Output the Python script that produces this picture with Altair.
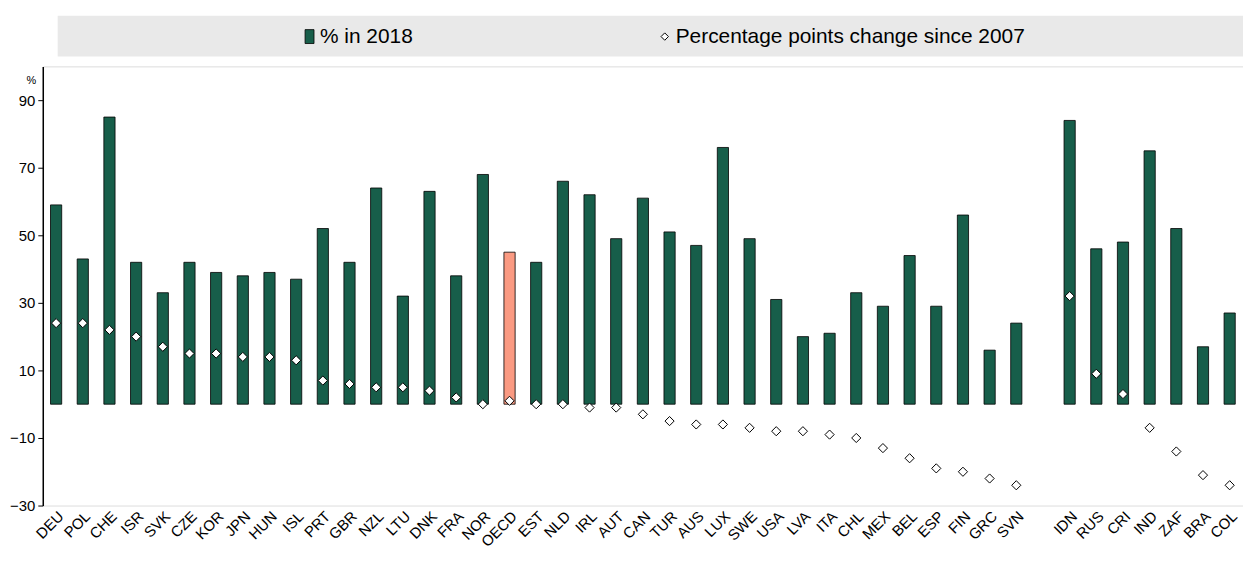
import altair as alt
import pandas as pd

# ---- data ----
oecd_codes = ["DEU", "POL", "CHE", "ISR", "SVK", "CZE", "KOR", "JPN", "HUN", "ISL",
              "PRT", "GBR", "NZL", "LTU", "DNK", "FRA", "NOR", "OECD", "EST", "NLD",
              "IRL", "AUT", "CAN", "TUR", "AUS", "LUX", "SWE", "USA", "LVA", "ITA",
              "CHL", "MEX", "BEL", "ESP", "FIN", "GRC", "SVN"]
oecd_share_2018 = [59, 43, 85, 42, 33, 42, 39, 38, 39, 37,
                   52, 42, 64, 32, 63, 38, 68, 45, 42, 66,
                   62, 49, 61, 51, 47, 76, 49, 31, 20, 21,
                   33, 29, 44, 29, 56, 16, 24]
oecd_change_2007 = [24, 24, 22, 20, 17, 15, 15, 14, 14, 13,
                    7, 6, 5, 5, 4, 2, 0, 1, 0, 0,
                    -1, -1, -3, -5, -6, -6, -7, -8, -8, -9,
                    -10, -13, -16, -19, -20, -22, -24]
partner_codes = ["IDN", "RUS", "CRI", "IND", "ZAF", "BRA", "COL"]
partner_share_2018 = [84, 46, 48, 75, 52, 17, 27]
partner_change_2007 = [32, 9, 3, -7, -14, -21, -24]
gap_slot = " "
highlight_code = "OECD"
legend_labels = ["% in 2018", "Percentage points change since 2007"]
y_ticks = [-30, -10, 10, 30, 50, 70, 90]
y_domain = [-30, 100]

# ---- table ----
codes = oecd_codes + partner_codes
df = pd.DataFrame({
    "code": codes,
    "share": oecd_share_2018 + partner_share_2018,
    "change": oecd_change_2007 + partner_change_2007,
})
df["group"] = ["hl" if c == highlight_code else "base" for c in codes]
x_order = oecd_codes + [gap_slot] + partner_codes

FONT = "Liberation Sans, Arial, sans-serif"
GREEN = "#175E4A"
SALMON = "#FA9A82"

W, H = 1208, 442

x_enc = alt.X(
    "code:N",
    scale=alt.Scale(domain=x_order, paddingInner=0.58, paddingOuter=0.29),
    axis=alt.Axis(title=None, labelAngle=-45, domain=False, ticks=False,
                  labelFontSize=15, labelPadding=3, labelColor="black",
                  labelFont=FONT),
)
y_scale = alt.Scale(domain=y_domain, nice=False, zero=False)
y_axis = alt.Axis(values=y_ticks, title="%", titleAngle=0, titleX=-12, titleY=14,
                  titleFontSize=11, titleFontWeight="normal", titleColor="black",
                  titleAlign="center", titleBaseline="middle", titleFont=FONT,
                  grid=False, tickSize=5, tickColor="black", domainColor="black",
                  domainWidth=1.5, labelFontSize=15, labelColor="black",
                  labelPadding=3, labelFont=FONT)

base = alt.Chart(df)

bars = base.mark_bar(stroke="black", strokeWidth=0.8).encode(
    x=x_enc,
    y=alt.Y("share:Q", scale=y_scale, axis=y_axis),
    y2=alt.datum(0),
    fill=alt.Fill("group:N", scale=alt.Scale(domain=["base", "hl"], range=[GREEN, SALMON]),
                  legend=None),
)

points = base.mark_point(shape="diamond", filled=True, fill="white", stroke="black",
                         strokeWidth=1, size=85, opacity=1).encode(
    x=x_enc,
    y=alt.Y("change:Q", scale=y_scale, axis=y_axis),
)

# ---- legend band drawn above the plot ----
leg_df = pd.DataFrame({"label": legend_labels, "item": [0, 1]})
leg = alt.Chart(leg_df)
leg_bg = leg.transform_filter("datum.item == 0").mark_rect(fill="#E9E9E9").encode(
    x=alt.value(15), x2=alt.value(W), y=alt.value(-51), y2=alt.value(-10))
leg_sq = leg.transform_filter("datum.item == 0").mark_rect(
    fill=GREEN, stroke="black", strokeWidth=0.8).encode(
    x=alt.value(264), x2=alt.value(273), y=alt.value(-37), y2=alt.value(-23))
leg_t1 = leg.transform_filter("datum.item == 0").mark_text(
    align="left", baseline="middle", fontSize=21, font=FONT, color="black").encode(
    x=alt.value(279), y=alt.value(-30), text="label:N")
leg_dm = leg.transform_filter("datum.item == 1").mark_point(
    shape="diamond", filled=True, fill="white", stroke="black", strokeWidth=1,
    size=55, opacity=1).encode(x=alt.value(626), y=alt.value(-30))
leg_t2 = leg.transform_filter("datum.item == 1").mark_text(
    align="left", baseline="middle", fontSize=21, font=FONT, color="black").encode(
    x=alt.value(637), y=alt.value(-30), text="label:N")

chart = alt.layer(bars, points, leg_bg, leg_sq, leg_t1, leg_dm, leg_t2).properties(
    width=W, height=H,
    autosize=alt.AutoSizeParams(type="none"),
    padding={"left": 35, "top": 57, "right": 0, "bottom": 44},
).configure_view(stroke=None).configure(font=FONT, background="white")

chart.save("out.html", embed_options={"renderer": "svg", "actions": False})
